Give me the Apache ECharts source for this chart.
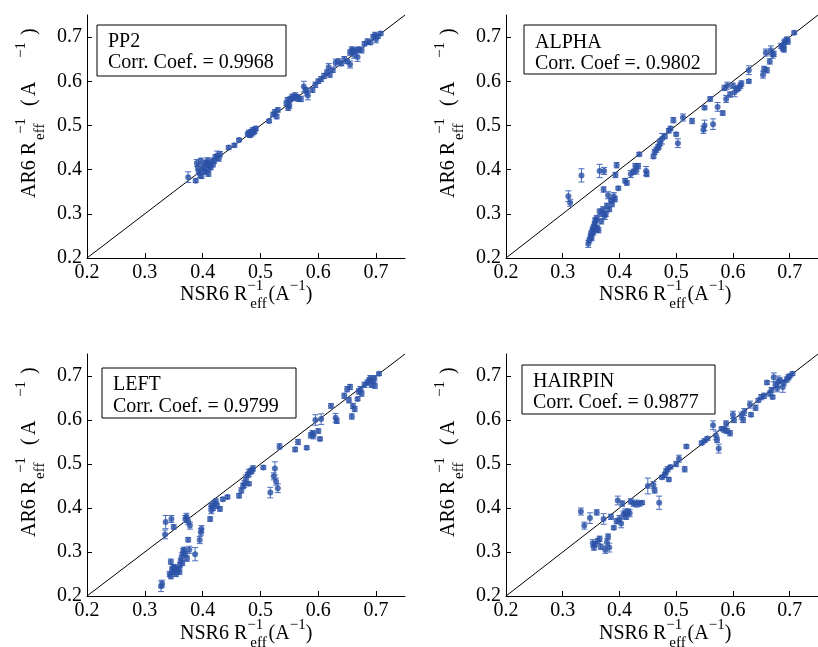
<!DOCTYPE html>
<html><head><meta charset="utf-8">
<script src="https://cdn.jsdelivr.net/npm/echarts@6/dist/echarts.min.js"></script>
<style>html,body{margin:0;padding:0;background:#fff}#c{width:818px;height:647px}</style>
</head><body><div id="c"></div>
<script>
const tickValues = [0.2, 0.3, 0.4, 0.5, 0.6, 0.7];
const panelNames = ['PP2', 'ALPHA', 'LEFT', 'HAIRPIN'];
const corrLabels = ['Corr. Coef. = 0.9968', 'Corr. Coef =. 0.9802', 'Corr. Coef. = 0.9799', 'Corr. Coef. = 0.9877'];
const diagonal = [[0.2, 0.2], [0.75, 0.75]];

const pp2X = [0.375,0.388,0.390,0.392,0.393,0.395,0.397,0.398,0.400,0.402,0.404,0.405,0.407,0.408,0.410,0.410,0.412,0.414,0.415,0.418,0.420,0.422,0.425,0.428,0.430,0.445,0.455,0.463,0.478,0.480,0.482,0.484,0.485,0.487,0.488,0.490,0.492,0.515,0.522,0.525,0.528,0.530,0.545,0.547,0.548,0.550,0.552,0.555,0.558,0.560,0.563,0.565,0.570,0.575,0.578,0.580,0.582,0.590,0.595,0.600,0.605,0.610,0.615,0.618,0.620,0.625,0.630,0.635,0.640,0.645,0.650,0.655,0.655,0.658,0.660,0.662,0.665,0.668,0.670,0.675,0.680,0.685,0.690,0.695,0.698,0.700,0.703,0.708];
const pp2Y = [0.383,0.375,0.415,0.405,0.395,0.390,0.420,0.385,0.405,0.398,0.412,0.395,0.415,0.420,0.402,0.390,0.410,0.405,0.418,0.412,0.420,0.428,0.432,0.425,0.435,0.450,0.455,0.467,0.480,0.484,0.478,0.486,0.482,0.490,0.485,0.488,0.493,0.510,0.525,0.530,0.520,0.535,0.550,0.558,0.540,0.545,0.560,0.565,0.562,0.568,0.565,0.560,0.560,0.588,0.580,0.575,0.568,0.580,0.592,0.600,0.605,0.612,0.620,0.632,0.615,0.625,0.642,0.645,0.640,0.650,0.645,0.638,0.665,0.672,0.668,0.660,0.670,0.655,0.672,0.670,0.685,0.690,0.688,0.700,0.705,0.695,0.702,0.708];
const pp2Err = [0.012,0.004,0.008,0.006,0.006,0.008,0.006,0.005,0.006,0.006,0.008,0.005,0.006,0.007,0.006,0.005,0.006,0.005,0.008,0.006,0.006,0.006,0.010,0.006,0.006,0.004,0.004,0.004,0.005,0.005,0.005,0.005,0.006,0.005,0.006,0.006,0.005,0.004,0.005,0.006,0.005,0.005,0.005,0.005,0.006,0.006,0.006,0.006,0.005,0.006,0.005,0.005,0.006,0.012,0.006,0.008,0.010,0.005,0.006,0.005,0.006,0.006,0.006,0.008,0.006,0.005,0.008,0.006,0.005,0.006,0.005,0.008,0.006,0.006,0.006,0.008,0.006,0.010,0.006,0.006,0.005,0.006,0.005,0.006,0.006,0.008,0.005,0.004];

const alphaX = [0.310,0.313,0.333,0.345,0.347,0.349,0.350,0.351,0.352,0.353,0.354,0.355,0.356,0.357,0.358,0.359,0.360,0.361,0.363,0.365,0.365,0.368,0.369,0.371,0.372,0.373,0.374,0.376,0.378,0.380,0.382,0.385,0.387,0.390,0.392,0.393,0.395,0.398,0.410,0.413,0.420,0.425,0.428,0.430,0.433,0.435,0.447,0.448,0.460,0.462,0.465,0.468,0.470,0.472,0.475,0.480,0.487,0.490,0.495,0.500,0.503,0.512,0.528,0.548,0.550,0.550,0.560,0.565,0.573,0.582,0.585,0.588,0.590,0.595,0.600,0.603,0.607,0.610,0.613,0.615,0.628,0.628,0.653,0.655,0.658,0.660,0.665,0.667,0.670,0.672,0.685,0.688,0.690,0.692,0.695,0.697,0.690,0.708];
const alphaY = [0.340,0.325,0.387,0.232,0.240,0.248,0.255,0.245,0.260,0.266,0.258,0.270,0.276,0.281,0.286,0.265,0.290,0.268,0.263,0.305,0.397,0.283,0.300,0.310,0.355,0.397,0.295,0.300,0.318,0.342,0.310,0.330,0.322,0.340,0.333,0.388,0.410,0.358,0.375,0.370,0.390,0.395,0.408,0.398,0.408,0.435,0.397,0.390,0.430,0.440,0.445,0.450,0.455,0.462,0.470,0.475,0.488,0.493,0.512,0.480,0.460,0.518,0.510,0.490,0.500,0.540,0.560,0.503,0.542,0.528,0.585,0.560,0.590,0.570,0.590,0.575,0.582,0.585,0.590,0.595,0.600,0.625,0.615,0.628,0.665,0.625,0.645,0.670,0.660,0.662,0.680,0.675,0.685,0.690,0.695,0.690,0.672,0.710];
const alphaErr = [0.012,0.008,0.015,0.008,0.006,0.006,0.006,0.006,0.006,0.006,0.006,0.006,0.006,0.008,0.006,0.006,0.006,0.006,0.006,0.006,0.015,0.006,0.006,0.006,0.006,0.008,0.008,0.006,0.006,0.008,0.005,0.006,0.006,0.008,0.006,0.006,0.006,0.004,0.005,0.005,0.008,0.006,0.006,0.008,0.006,0.004,0.010,0.006,0.005,0.006,0.006,0.006,0.008,0.008,0.012,0.005,0.005,0.005,0.006,0.004,0.010,0.008,0.006,0.008,0.012,0.004,0.005,0.012,0.010,0.005,0.006,0.008,0.008,0.006,0.006,0.010,0.006,0.006,0.006,0.006,0.004,0.010,0.008,0.006,0.008,0.006,0.006,0.010,0.008,0.006,0.006,0.006,0.008,0.006,0.005,0.006,0.006,0.004];

const leftX = [0.328,0.330,0.335,0.336,0.343,0.345,0.345,0.346,0.347,0.349,0.350,0.350,0.352,0.354,0.356,0.358,0.360,0.361,0.362,0.364,0.365,0.366,0.368,0.370,0.370,0.372,0.373,0.375,0.375,0.377,0.378,0.387,0.395,0.397,0.398,0.413,0.415,0.415,0.418,0.420,0.423,0.425,0.430,0.435,0.443,0.463,0.467,0.470,0.472,0.475,0.478,0.480,0.480,0.483,0.485,0.487,0.505,0.517,0.523,0.525,0.527,0.530,0.533,0.560,0.565,0.580,0.587,0.590,0.592,0.595,0.600,0.603,0.605,0.622,0.630,0.632,0.645,0.650,0.653,0.655,0.658,0.660,0.663,0.668,0.670,0.673,0.675,0.680,0.685,0.688,0.690,0.692,0.695,0.697,0.698,0.705];
const leftY = [0.222,0.228,0.340,0.368,0.250,0.278,0.245,0.375,0.260,0.266,0.255,0.357,0.265,0.250,0.260,0.262,0.255,0.270,0.280,0.290,0.275,0.300,0.305,0.375,0.295,0.380,0.285,0.370,0.328,0.305,0.360,0.295,0.327,0.345,0.352,0.375,0.395,0.405,0.400,0.410,0.415,0.405,0.398,0.420,0.425,0.428,0.440,0.450,0.455,0.465,0.475,0.480,0.455,0.483,0.485,0.490,0.492,0.435,0.472,0.490,0.460,0.445,0.540,0.533,0.550,0.537,0.565,0.570,0.565,0.600,0.575,0.557,0.602,0.632,0.605,0.598,0.655,0.670,0.645,0.675,0.608,0.632,0.625,0.648,0.665,0.670,0.660,0.680,0.685,0.690,0.695,0.680,0.688,0.695,0.678,0.705];
const leftErr = [0.012,0.008,0.010,0.015,0.006,0.006,0.006,0.008,0.006,0.006,0.006,0.005,0.006,0.006,0.006,0.006,0.006,0.006,0.006,0.008,0.006,0.008,0.006,0.008,0.006,0.008,0.006,0.008,0.005,0.008,0.008,0.015,0.008,0.008,0.008,0.005,0.008,0.006,0.006,0.006,0.006,0.006,0.005,0.004,0.004,0.005,0.006,0.006,0.008,0.010,0.006,0.008,0.004,0.006,0.006,0.006,0.004,0.012,0.008,0.015,0.008,0.010,0.006,0.005,0.006,0.004,0.006,0.006,0.008,0.012,0.005,0.004,0.012,0.005,0.010,0.006,0.006,0.006,0.006,0.006,0.006,0.006,0.006,0.004,0.006,0.006,0.006,0.006,0.006,0.006,0.006,0.006,0.006,0.006,0.006,0.004];

const hairpinX = [0.332,0.338,0.348,0.353,0.355,0.357,0.360,0.362,0.365,0.367,0.372,0.375,0.378,0.380,0.382,0.385,0.390,0.395,0.397,0.400,0.403,0.405,0.407,0.410,0.412,0.415,0.418,0.420,0.425,0.430,0.435,0.440,0.450,0.460,0.462,0.470,0.475,0.480,0.482,0.485,0.487,0.490,0.500,0.505,0.515,0.518,0.545,0.550,0.555,0.565,0.570,0.572,0.575,0.580,0.585,0.588,0.590,0.595,0.600,0.602,0.615,0.618,0.620,0.630,0.632,0.640,0.645,0.650,0.655,0.660,0.665,0.668,0.670,0.672,0.675,0.678,0.680,0.683,0.688,0.690,0.695,0.698,0.700,0.705];
const hairpinY = [0.392,0.360,0.377,0.320,0.310,0.318,0.390,0.325,0.330,0.312,0.375,0.305,0.322,0.335,0.310,0.380,0.355,0.370,0.417,0.375,0.365,0.410,0.385,0.390,0.380,0.392,0.388,0.415,0.410,0.410,0.410,0.412,0.450,0.452,0.440,0.412,0.470,0.475,0.483,0.488,0.465,0.493,0.500,0.512,0.488,0.540,0.548,0.553,0.558,0.588,0.565,0.555,0.535,0.580,0.577,0.592,0.575,0.570,0.612,0.600,0.610,0.600,0.618,0.635,0.612,0.628,0.645,0.652,0.655,0.685,0.660,0.668,0.652,0.697,0.680,0.672,0.688,0.690,0.675,0.685,0.692,0.697,0.700,0.705];
const hairpinErr = [0.008,0.008,0.012,0.008,0.006,0.006,0.006,0.006,0.006,0.006,0.012,0.008,0.008,0.006,0.010,0.006,0.004,0.006,0.010,0.008,0.010,0.006,0.008,0.008,0.006,0.006,0.008,0.006,0.006,0.008,0.006,0.004,0.018,0.008,0.006,0.015,0.004,0.006,0.006,0.006,0.004,0.004,0.006,0.008,0.006,0.004,0.004,0.004,0.004,0.010,0.010,0.006,0.010,0.004,0.006,0.006,0.006,0.006,0.008,0.006,0.008,0.006,0.008,0.008,0.004,0.006,0.004,0.006,0.006,0.004,0.006,0.006,0.004,0.010,0.006,0.008,0.012,0.006,0.012,0.006,0.006,0.006,0.004,0.004];

const panelX = [pp2X, alphaX, leftX, hairpinX];
const panelY = [pp2Y, alphaY, leftY, hairpinY];
const panelErr = [pp2Err, alphaErr, leftErr, hairpinErr];

const SERIF = '"Liberation Serif", "Times New Roman", serif';
const pointColor = '#2b51a6';
const barColor = '#4a6cbc';

const grids = [
  {left: 87, top: 15, width: 318, height: 243},
  {left: 506, top: 15, width: 320, height: 243},
  {left: 87, top: 354, width: 318, height: 242},
  {left: 506, top: 354, width: 320, height: 242}
];
const boxes = [
  {x: 97, y: 25, w: 189, h: 51, t1: 42, t2: 63, tx: 108},
  {x: 524, y: 25, w: 192, h: 49, t1: 43, t2: 64, tx: 535},
  {x: 102, y: 368, w: 194, h: 50, t1: 385, t2: 407, tx: 113},
  {x: 522, y: 365, w: 193, h: 49, t1: 382, t2: 403, tx: 533}
];

const mctx = document.createElement('canvas').getContext('2d');
function tw(s, size) { mctx.font = size + 'px ' + SERIF; return mctx.measureText(s).width; }
const mk = (t, lx, ly, size) => ({type: 'text', x: lx, y: ly,
  style: {text: t, fill: '#000', font: size + 'px ' + SERIF, textAlign: 'left', textVerticalAlign: 'middle'}});

// x-axis title, compact layout
function xLabel(x, y) {
  const big = 20, small = 15;
  const w1 = tw('NSR6 R', big);
  const wsup = tw('\u22121', small), wsub = tw('eff', small);
  const w2 = w1 + Math.max(wsup, wsub + 3) + 2;
  const w3 = w2 + tw('(A', big);
  const w4 = w3 + wsup;
  return {type: 'group', x: x, y: y, z: 12, children: [
    mk('NSR6 R', 0, 0, big), mk('\u22121', w1, -9, small), mk('eff', w1 + 3, 9, small),
    mk('(A', w2, 0, big), mk('\u22121', w3, -9, small), mk(')', w4, 0, big)
  ]};
}
// y-axis title, rotated, pieces spread along the axis as in the original
function yLabel(x, y) {
  return {type: 'group', x: x, y: y, rotation: Math.PI / 2, z: 12, children: [
    mk('AR6 R', 0, 0, 20), mk('\u22121', 64, -9, 15), mk('eff', 58, 10, 15),
    mk('(', 92, 0, 20), mk('A', 102, 0, 20), mk('\u22121', 140, -9, 15), mk(')', 163, 0, 20)
  ]};
}

function errRender(params, api) {
  const x = api.value(0), lo = api.value(1), hi = api.value(2);
  const p1 = api.coord([x, lo]), p2 = api.coord([x, hi]);
  const w = 3;
  const style = {stroke: barColor, lineWidth: 1, fill: null};
  return {type: 'group', children: [
    {type: 'line', shape: {x1: p1[0], y1: p1[1], x2: p2[0], y2: p2[1]}, style: style},
    {type: 'line', shape: {x1: p1[0] - w, y1: p1[1], x2: p1[0] + w, y2: p1[1]}, style: style},
    {type: 'line', shape: {x1: p2[0] - w, y1: p2[1], x2: p2[0] + w, y2: p2[1]}, style: style}
  ]};
}

function makeAxis(i) {
  return {
    gridIndex: i, type: 'value', min: 0.2, max: 0.75, interval: 0.1,
    splitLine: {show: false},
    axisLine: {show: true, lineStyle: {color: '#000', width: 1}},
    axisTick: {show: true, inside: true, length: 5, lineStyle: {color: '#000'}, customValues: tickValues},
    axisLabel: {color: '#000', fontSize: 20, fontFamily: SERIF, margin: 5, customValues: tickValues,
      formatter: v => (Math.round(v * 10) / 10).toFixed(1)}
  };
}

const xAxis = [], yAxis = [], series = [], graphic = [];
for (let i = 0; i < 4; i++) {
  xAxis.push(makeAxis(i));
  yAxis.push(makeAxis(i));
  series.push({type: 'line', xAxisIndex: i, yAxisIndex: i, data: diagonal, symbol: 'none', silent: true,
    lineStyle: {color: '#000', width: 1}, z: 1});
  const errData = panelX[i].map((x, k) => [x, panelY[i][k] - panelErr[i][k], panelY[i][k] + panelErr[i][k]]);
  series.push({type: 'custom', xAxisIndex: i, yAxisIndex: i, data: errData, renderItem: errRender,
    encode: {x: 0, y: [1, 2]}, silent: true, z: 2});
  series.push({type: 'scatter', xAxisIndex: i, yAxisIndex: i, data: panelX[i].map((x, k) => [x, panelY[i][k]]),
    symbol: 'circle', symbolSize: 6, itemStyle: {color: pointColor}, silent: true, z: 3});
  const b = boxes[i];
  graphic.push({type: 'rect', shape: {x: b.x, y: b.y, width: b.w, height: b.h},
    style: {fill: '#fff', stroke: '#000', lineWidth: 1}, z: 10});
  graphic.push({type: 'text', x: b.tx, y: b.t1, z: 11,
    style: {text: panelNames[i], fill: '#000', font: '20px ' + SERIF, textAlign: 'left', textVerticalAlign: 'middle'}});
  graphic.push({type: 'text', x: b.tx, y: b.t2, z: 11,
    style: {text: corrLabels[i], fill: '#000', font: '20px ' + SERIF, textAlign: 'left', textVerticalAlign: 'middle'}});
  const g = grids[i];
  const dx = g.left - 87, dy = g.top - 15;
  graphic.push(xLabel(180 + dx, 295 + dy), yLabel(30 + dx, 198 + dy));
}

const chart = echarts.init(document.getElementById('c'), null, {renderer: 'canvas'});
chart.setOption({
  animation: false,
  backgroundColor: '#fff',
  grid: grids.map(g => Object.assign({containLabel: false}, g)),
  xAxis: xAxis, yAxis: yAxis, series: series, graphic: graphic
});
</script></body></html>
